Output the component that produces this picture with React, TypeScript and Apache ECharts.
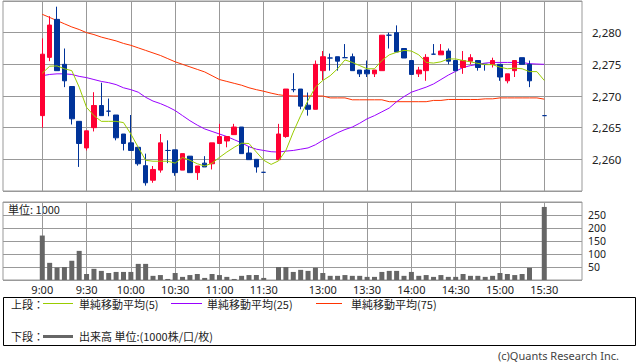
import React, { useEffect, useRef } from "react";
import * as echarts from "echarts";

// slot index: 0 = 9:00, one slot = 5 minutes, 38 = 13:00, 68 = 15:30
const tickSlots = [0, 6, 12, 18, 24, 30, 38, 44, 50, 56, 62, 68];
const tickLabels = ["9:00", "9:30", "10:00", "10:30", "11:00", "11:30", "13:00", "13:30", "14:00", "14:30", "15:00", "15:30"];

const candleSlots = [
  0, 1, 2, 3, 4, 5, 6, 7, 8, 9, 10, 11, 12, 13, 14, 15, 16, 17, 18, 19, 20, 21, 22, 23, 24, 25, 26, 27, 28, 29, 30,
  32, 33, 34, 35, 36, 37, 38, 39, 40, 41, 42, 43, 44, 45, 46, 47, 48, 49, 50, 51, 52, 53, 54, 55, 56, 57, 58, 59, 60,
  61, 62, 63, 64, 65, 66, 68,
];
const openP = [
  2266.9, 2276.1, 2282.1, 2275.0, 2271.5, 2266.0, 2261.8, 2265.0, 2268.5, 2267.6, 2267.0, 2264.0, 2262.6, 2261.9, 2259.0, 2256.7,
  2258.3, 2261.4, 2261.5, 2258.3, 2260.5, 2257.9, 2259.4, 2259.3, 2262.5, 2262.9, 2263.9, 2265.1, 2261.0, 2260.0, 2257.95,
  2259.95, 2263.6, 2271.0, 2271.1, 2268.55, 2267.9, 2274.0, 2276.0, 2276.2, 2276.05, 2276.2, 2274.1, 2274.1, 2273.5, 2274.0,
  2279.6, 2280.0, 2277.5, 2275.6, 2273.5, 2274.0, 2276.6, 2276.5, 2277.1, 2275.6, 2274.5, 2275.5, 2275.6, 2275.0, 2275.0,
  2275.0, 2272.4, 2274.0, 2276.05, 2275.0, 2266.9,
];
const closeP = [
  2276.6, 2281.2, 2274.0, 2272.4, 2266.4, 2262.5, 2264.5, 2268.5, 2266.9, 2267.6, 2263.4, 2262.5, 2261.4, 2259.3, 2256.3, 2258.4,
  2262.6, 2261.4, 2257.9, 2260.9, 2257.9, 2258.95, 2258.8, 2262.6, 2263.6, 2263.6, 2265.1, 2260.9, 2259.95, 2258.8, 2257.95,
  2264.0, 2271.1, 2271.0, 2268.4, 2267.9, 2275.0, 2276.2, 2276.0, 2275.5, 2276.05, 2274.0, 2273.5, 2273.5, 2274.1, 2279.6,
  2279.6, 2276.95, 2276.0, 2273.4, 2274.1, 2276.1, 2276.6, 2277.1, 2275.5, 2274.0, 2275.6, 2276.05, 2274.5, 2275.0, 2275.6,
  2273.0, 2273.5, 2275.6, 2275.0, 2272.4, 2266.9,
];
const lowP = [
  2265.0, 2275.5, 2274.0, 2271.4, 2265.5, 2258.8, 2261.4, 2264.4, 2266.9, 2266.8, 2263.0, 2261.4, 2261.4, 2259.0, 2255.85, 2256.3,
  2257.9, 2259.4, 2257.4, 2258.3, 2257.9, 2256.75, 2258.8, 2258.4, 2262.5, 2261.9, 2263.9, 2260.9, 2259.95, 2257.9, 2257.95,
  2259.95, 2263.4, 2270.6, 2267.9, 2266.9, 2267.9, 2272.5, 2274.0, 2274.0, 2276.05, 2274.0, 2273.0, 2273.0, 2273.0, 2274.0,
  2277.5, 2276.95, 2276.0, 2273.4, 2273.0, 2272.4, 2276.6, 2276.5, 2275.0, 2274.0, 2273.5, 2275.0, 2274.0, 2274.0, 2274.5,
  2272.4, 2272.0, 2273.0, 2275.0, 2271.4, 2266.9,
];
const highP = [
  2279.1, 2282.6, 2284.1, 2277.5, 2271.5, 2266.0, 2264.5, 2270.6, 2272.1, 2269.6, 2267.0, 2264.0, 2267.0, 2261.9, 2260.9, 2258.95,
  2264.0, 2263.0, 2261.5, 2260.9, 2260.5, 2258.95, 2260.5, 2262.6, 2265.6, 2263.6, 2265.6, 2265.1, 2262.0, 2260.0, 2257.95,
  2265.6, 2271.1, 2273.6, 2271.1, 2270.55, 2275.6, 2277.1, 2276.7, 2276.2, 2278.2, 2276.7, 2274.1, 2275.6, 2274.1, 2279.6,
  2280.0, 2281.15, 2277.5, 2275.6, 2274.6, 2276.6, 2278.2, 2278.2, 2277.5, 2275.6, 2277.1, 2276.6, 2275.6, 2275.0, 2276.05,
  2275.0, 2273.5, 2275.6, 2276.05, 2275.6, 2266.9,
];

const volSlots = candleSlots;
const volumes = [
  171, 66, 48, 50, 74, 112, 23, 43, 35, 27, 31, 31, 31, 62, 62, 16, 19, 4, 27, 12, 19, 23, 8, 23, 19, 12, 4, 16, 19, 19, 8,
  50, 50, 31, 39, 35, 47, 27, 16, 16, 19, 16, 16, 12, 12, 31, 35, 35, 16, 31, 16, 19, 12, 19, 12, 12, 23, 16, 16, 12, 16,
  27, 23, 19, 23, 47, 281,
];

// moving averages, one value per slot 0..68
const ma5 = [
  2273.6, 2274.7, 2274.75, 2274.3, 2274.0, 2271.4, 2268.2, 2266.9, 2266.0, 2266.0, 2266.0, 2265.8, 2264.0, 2261.9, 2259.85,
  2259.7, 2259.7, 2259.7, 2259.4, 2260.3, 2259.85, 2259.3, 2258.95, 2259.4, 2260.3, 2261.15, 2261.9, 2262.55, 2262.5,
  2261.15, 2259.85, 2259.2, 2259.75, 2261.4, 2264.3, 2266.9, 2269.3, 2271.4, 2272.45, 2273.2, 2274.3, 2275.7, 2275.3,
  2274.8, 2274.3, 2274.3, 2275.6, 2276.5, 2276.9, 2277.2, 2277.1, 2276.5, 2275.3, 2275.2, 2275.4, 2275.85, 2275.85, 2275.6,
  2275.4, 2275.15, 2274.95, 2274.95, 2274.55, 2274.3, 2274.4, 2274.3, 2273.85, 2273.85, 2272.45,
];
const ma25 = [
  2273.2, 2273.4, 2273.5, 2273.5, 2273.4, 2273.1, 2272.9, 2272.6, 2272.3, 2272.1, 2271.8, 2271.3, 2271.0, 2270.6, 2269.8,
  2269.2, 2268.8, 2268.3, 2267.7, 2266.9, 2266.1, 2265.4, 2264.8, 2264.4, 2264.0, 2263.6, 2263.1, 2262.6, 2262.0, 2261.6,
  2261.4, 2261.2, 2261.15, 2261.3, 2261.4, 2261.6, 2261.8, 2262.3, 2263.0, 2263.6, 2264.2, 2264.7, 2265.1, 2265.7, 2266.4,
  2266.9, 2267.5, 2268.1, 2269.1, 2269.9, 2270.6, 2271.0, 2271.4, 2271.9, 2272.6, 2273.3, 2273.9, 2274.5, 2274.8, 2275.0,
  2275.2, 2275.3, 2275.3, 2275.3, 2275.3, 2275.3, 2275.1, 2275.05, 2275.0,
];
const ma75 = [
  2282.9, 2282.4, 2281.9, 2281.4, 2280.9, 2280.5, 2280.0, 2279.7, 2279.3, 2279.0, 2278.7, 2278.3, 2278.0, 2277.6, 2277.2,
  2276.8, 2276.4, 2275.9, 2275.4, 2275.0, 2274.6, 2274.2, 2273.8, 2273.2, 2272.6, 2272.3, 2272.0, 2271.7, 2271.3, 2271.0,
  2270.75, 2270.45, 2270.2, 2270.05, 2270.0, 2270.0, 2270.0, 2270.0, 2270.0, 2269.7, 2269.7, 2269.7, 2269.4, 2269.4, 2269.4,
  2269.4, 2269.4, 2269.1, 2269.1, 2269.1, 2269.1, 2269.1, 2269.1, 2269.3, 2269.3, 2269.45, 2269.45, 2269.45, 2269.45,
  2269.45, 2269.55, 2269.55, 2269.7, 2269.7, 2269.7, 2269.7, 2269.7, 2269.7, 2269.5,
];

const priceMin = 2255;
const priceMax = 2285;
const priceStep = 5;
const volMax = 300;
const volStep = 50;

const UP = "#ff0033";
const DOWN = "#003399";
const GRID = "#999999";
const FONT = "'Noto Sans', 'Noto Sans CJK JP', sans-serif";
const JFONT = "'Noto Sans CJK JP', sans-serif";

export default function App() {
  const ref = useRef<HTMLDivElement>(null);

  useEffect(() => {
    if (!ref.current) return;
    const chart = echarts.init(ref.current, null, { renderer: "svg" });

    const xMin = -5.32;
    const xMax = 73.11;

    const candleData = candleSlots.map((s, i) => {
      const item: any = { value: [s, openP[i], closeP[i], lowP[i], highP[i]] };
      if (openP[i] === closeP[i]) {
        item.itemStyle = { color: DOWN, borderColor: DOWN, color0: DOWN, borderColor0: DOWN };
      }
      return item;
    });
    const slotsAll = ma5.map((_, i) => i);

    const xAxisBase = (gridIndex: number, showLabel: boolean) => ({
      type: "value",
      gridIndex,
      min: xMin,
      max: xMax,
      axisLine: { show: false },
      axisTick: { show: false, customValues: tickSlots },
      splitLine: { show: true, lineStyle: { color: GRID, width: 1 } },
      axisLabel: {
        show: showLabel,
        customValues: tickSlots,
        margin: 3,
        fontSize: 11,
        lineHeight: 12,
        fontFamily: FONT,
        color: "#222",
        formatter: (v: number) => {
          const k = tickSlots.indexOf(Math.round(v));
          return k >= 0 ? tickLabels[k] : "";
        },
      },
    });

    const legendText = (x: number, y: number, text: string) => ({
      type: "text",
      x,
      y,
      style: { text, fontSize: 11, lineHeight: 13, fontFamily: JFONT, fill: "#222", verticalAlign: "middle" },
    });

    chart.setOption({
      animation: false,
      backgroundColor: "#ffffff",
      grid: [
        { left: 3, right: 56, top: 1, height: 190, show: true, borderColor: GRID, borderWidth: 1, backgroundColor: "#fff" },
        { left: 3, right: 56, top: 202, height: 78, show: true, borderColor: GRID, borderWidth: 1, backgroundColor: "#fff" },
      ],
      xAxis: [xAxisBase(0, false), xAxisBase(1, true)],
      yAxis: [
        {
          type: "value",
          gridIndex: 0,
          position: "right",
          min: priceMin,
          max: priceMax,
          interval: priceStep,
          axisLine: { show: false },
          axisTick: { show: false },
          splitLine: { show: true, lineStyle: { color: GRID } },
          axisLabel: {
            margin: 10,
            fontSize: 11.5,
            fontFamily: FONT,
            color: "#222",
            showMinLabel: false,
            showMaxLabel: false,
            formatter: (v: number) => (v === priceMin || v === priceMax ? "" : v.toLocaleString("en-US")),
          },
        },
        {
          type: "value",
          gridIndex: 1,
          position: "right",
          min: 0,
          max: volMax,
          interval: volStep,
          axisLine: { show: false },
          axisTick: { show: false },
          splitLine: { show: true, lineStyle: { color: GRID } },
          axisLabel: {
            margin: 6,
            fontSize: 10.5,
            lineHeight: 12,
            fontFamily: FONT,
            color: "#222",
            showMinLabel: false,
            showMaxLabel: false,
            formatter: (v: number) => (v === 0 || v === volMax ? "" : String(v)),
          },
        },
      ],
      series: [
        {
          type: "line",
          xAxisIndex: 0,
          yAxisIndex: 0,
          data: slotsAll.map((s) => [s, ma75[s]]),
          symbol: "none",
          lineStyle: { color: "#ff3300", width: 1 },
          z: 2,
        },
        {
          type: "line",
          xAxisIndex: 0,
          yAxisIndex: 0,
          data: slotsAll.map((s) => [s, ma25[s]]),
          symbol: "none",
          lineStyle: { color: "#9900ff", width: 1 },
          z: 2,
        },
        {
          type: "candlestick",
          xAxisIndex: 0,
          yAxisIndex: 0,
          barWidth: 5,
          encode: { x: 0, y: [1, 2, 3, 4] },
          data: candleData,
          itemStyle: { color: UP, color0: DOWN, borderColor: UP, borderColor0: DOWN, borderWidth: 1 },
          z: 3,
        },
        {
          type: "line",
          xAxisIndex: 0,
          yAxisIndex: 0,
          data: slotsAll.map((s) => [s, ma5[s]]),
          symbol: "none",
          lineStyle: { color: "#99cc00", width: 1 },
          z: 4,
        },
        {
          type: "bar",
          xAxisIndex: 1,
          yAxisIndex: 1,
          barWidth: 5,
          data: volSlots.map((s, i) => [s, volumes[i]]),
          itemStyle: { color: "#666666" },
        },
      ],
      graphic: [
        { type: "text", left: 8, top: 203, style: { text: "単位: 1000", fontSize: 11, fontFamily: JFONT, fill: "#222" } },
        {
          type: "rect",
          shape: { x: 3.5, y: 297.5, width: 632, height: 48 },
          style: { fill: "none", stroke: "#000", lineWidth: 1 },
        },
        legendText(11, 304, "上段："),
        { type: "line", shape: { x1: 43, y1: 303.5, x2: 73, y2: 303.5 }, style: { stroke: "#99cc00", lineWidth: 1 } },
        legendText(79, 304, "単純移動平均(5)"),
        { type: "line", shape: { x1: 171, y1: 303.5, x2: 202, y2: 303.5 }, style: { stroke: "#9900ff", lineWidth: 1 } },
        legendText(207, 304, "単純移動平均(25)"),
        { type: "line", shape: { x1: 316, y1: 303.5, x2: 342, y2: 303.5 }, style: { stroke: "#ff3300", lineWidth: 1 } },
        legendText(351, 304, "単純移動平均(75)"),
        legendText(11, 336, "下段："),
        { type: "line", shape: { x1: 43, y1: 336.5, x2: 73, y2: 336.5 }, style: { stroke: "#666666", lineWidth: 3 } },
        legendText(79, 336, "出来高 単位:(1000株/口/枚)"),
        { type: "text", x: 619, y: 355, style: { text: "(c)Quants Research Inc.", fontSize: 11, fontFamily: FONT, fill: "#444", align: "right", verticalAlign: "middle" } },
      ],
    });

    return () => chart.dispose();
  }, []);

  return (
    <div
      ref={ref}
      style={{ position: "fixed", left: 0, top: 0, width: 638, height: 362, background: "#fff" }}
    />
  );
}
